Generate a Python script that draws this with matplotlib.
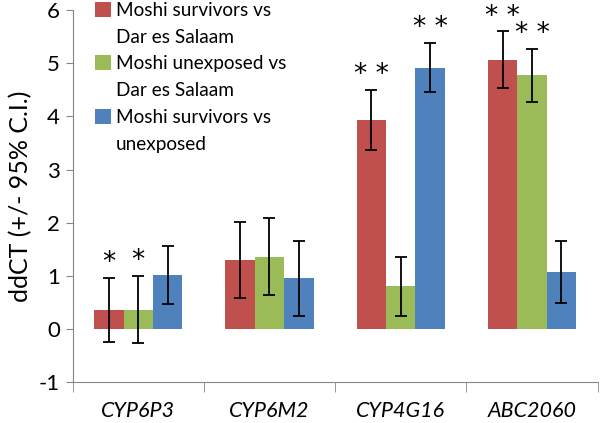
import numpy as np
import matplotlib
matplotlib.use('Agg')
import matplotlib.pyplot as plt
from matplotlib.patches import Patch

# Data
genes = ['CYP6P3', 'CYP6M2', 'CYP4G16', 'ABC2060']
series = ['Moshi survivors vs\nDar es Salaam',
          'Moshi unexposed vs\nDar es Salaam',
          'Moshi survivors vs\nunexposed']
surv_vs_dar = [0.36, 1.30, 3.93, 5.07]
unexp_vs_dar = [0.36, 1.36, 0.80, 4.77]
surv_vs_unexp = [1.01, 0.95, 4.92, 1.07]
ci_surv_vs_dar = [0.60, 0.71, 0.56, 0.53]
ci_unexp_vs_dar = [0.63, 0.72, 0.56, 0.50]
ci_surv_vs_unexp = [0.55, 0.71, 0.46, 0.58]
stars_surv_vs_dar = ['*', '', '**', '**']
stars_unexp_vs_dar = ['*', '', '', '**']
stars_surv_vs_unexp = ['', '', '**', '']

colors = ['#C0504D', '#9BBB59', '#4F81BD']
plt.rcParams['font.family'] = ['Lato', 'DejaVu Sans']
plt.rcParams['axes.unicode_minus'] = False

fig = plt.figure(figsize=(6, 4.23), dpi=100)
ax = fig.add_axes([0.121, 0.097, 0.875, 0.879])

x = np.arange(len(genes))
w = 0.224
values = [surv_vs_dar, unexp_vs_dar, surv_vs_unexp]
cis = [ci_surv_vs_dar, ci_unexp_vs_dar, ci_surv_vs_unexp]
stars = [stars_surv_vs_dar, stars_unexp_vs_dar, stars_surv_vs_unexp]
for i in range(3):
    pos = x + (i - 1) * w
    ax.bar(pos, values[i], w, color=colors[i], zorder=2)
    ax.errorbar(pos, values[i], yerr=cis[i], fmt='none', ecolor='black',
                elinewidth=1.3, capsize=4, capthick=1.3, zorder=3)
    for p, v, c, s in zip(pos, values[i], cis[i], stars[i]):
        if s:
            ax.text(p, v + c + 0.28, ' '.join(s), ha='center', va='center',
                    fontsize=19, family='DejaVu Sans', clip_on=False)

ax.set_xlim(-0.5, 3.5)
ax.set_ylim(-1, 6)
ax.set_yticks(range(-1, 7))
ax.tick_params(axis='y', labelsize=16, length=5, color='#868686', pad=4)
ax.set_xticks(x)
ax.set_xticklabels(genes, fontstyle='italic', fontsize=15.5)
ax.set_xticks(np.arange(-0.5, 4, 1), minor=True)
ax.tick_params(axis='x', which='major', length=0, pad=14)
ax.tick_params(axis='x', which='minor', length=7, color='#868686')
for s in ['top', 'right']:
    ax.spines[s].set_visible(False)
ax.spines['left'].set_color('#868686')
ax.spines['bottom'].set_color('#868686')
ax.set_ylabel('ddCT (+/- 95% C.I.)', fontsize=18, labelpad=5)

# legend: a patch on the first line of each two-line entry
handles, labels = [], []
for c, lab in zip(colors, series):
    first, second = lab.split('\n')
    handles += [Patch(facecolor=c), Patch(facecolor='none', edgecolor='none')]
    labels += [first, second]
fig.legend(handles, labels, loc='upper left', bbox_to_anchor=(0.155, 1.0),
           frameon=False, fontsize=13.7, handlelength=0.85, handleheight=0.85,
           handletextpad=0.25, labelspacing=0.5, borderpad=0.1, borderaxespad=0)

fig.savefig('out.png', dpi=100)
